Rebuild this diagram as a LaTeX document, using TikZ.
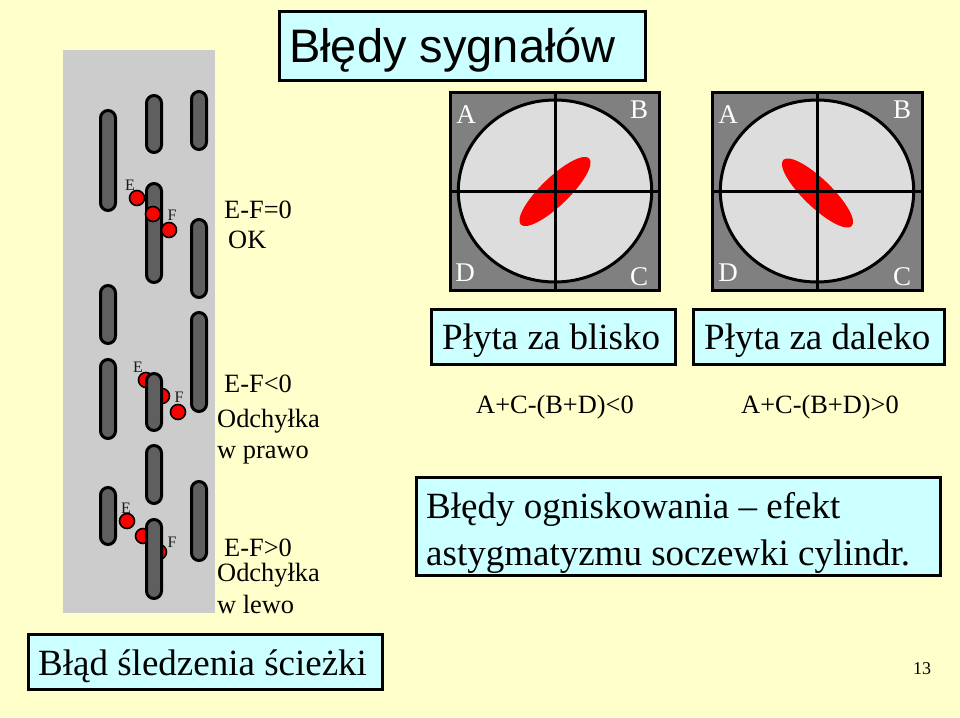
\documentclass[tikz,border=0pt]{standalone}
\usepackage{fontspec}
\setmainfont{Liberation Serif}
\newfontfamily\titlefont{Liberation Sans}
\usepackage{tikz}
\definecolor{pagebg}{HTML}{FFFFCC}
\definecolor{boxbg}{HTML}{CCFFFF}
\definecolor{trackbg}{HTML}{CCCCCC}
\definecolor{pitbg}{HTML}{5F5F5F}
\definecolor{quadbg}{HTML}{808080}
\definecolor{discbg}{HTML}{DDDDDD}
\tikzset{
  pit/.style={draw=black,line width=3pt,fill=pitbg,rounded corners=7.5pt},
  spot/.style={draw=black,line width=1.6pt,fill=red},
  infobox/.style={draw=black,line width=3pt,fill=boxbg},
  caption/.style={anchor=base west,inner sep=0pt,font=\fontsize{37}{40}\selectfont},
  note/.style={anchor=base west,inner sep=0pt,font=\fontsize{26.4}{28}\selectfont},
  tiny/.style={inner sep=0pt,font=\fontsize{16}{17}\selectfont,text=black!90},
  quadlabel/.style={inner sep=0pt,text=white,font=\fontsize{27}{28}\selectfont},
}
\begin{document}
\begin{tikzpicture}[x=1pt,y=-1pt]
\fill[pagebg] (0,0) rectangle (960,717);
% title
\draw[infobox] (279,12) rectangle (645,80);
\node[anchor=base west,inner sep=0pt,font=\titlefont\fontsize{47}{50}\selectfont] (title) at (289,63) {Błędy sygnałów};
% track strip
\fill[trackbg] (63,50) rectangle (215,613);
% spots under the pits
\draw[spot] (146,380) circle (7.5);
\draw[spot] (162,396) circle (7.5);
\draw[spot] (178,412) circle (7.5);
\draw[spot] (127,521) circle (7.5);
\draw[spot] (143,536) circle (7.5);
\draw[spot] (159,552) circle (7.5);
% pits
\draw[pit] (100.5,110.5) rectangle (115.5,210.5);
\draw[pit] (146.5,95.5) rectangle (161.5,152.5);
\draw[pit] (191.5,91.5) rectangle (206.5,149.5);
\draw[pit] (146.5,183.5) rectangle (161.5,282.5);
\draw[pit] (191.5,219.5) rectangle (206.5,297.5);
\draw[pit] (100.5,285.5) rectangle (115.5,343.5);
\draw[pit] (191.5,312.5) rectangle (206.5,411.5);
\draw[pit] (100.5,359.5) rectangle (115.5,438.5);
\draw[pit] (146.5,373.5) rectangle (161.5,430.5);
\draw[pit] (146.5,445.5) rectangle (161.5,503.5);
\draw[pit] (100.5,487.5) rectangle (115.5,544.5);
\draw[pit] (191.5,481.5) rectangle (206.5,560.5);
\draw[pit] (146.5,519.5) rectangle (161.5,598.5);
% spots over the pits, first row
\draw[spot] (137,198) circle (7.5);
\draw[spot] (153,214) circle (7.5);
\draw[spot] (169,230) circle (7.5);
% spot labels
\node[tiny] (e1) at (130,185) {E};
\node[tiny] (f1) at (172,215) {F};
\node[tiny] (e2) at (138,367) {E};
\node[tiny] (f2) at (179,397) {F};
\node[tiny] (e3) at (126,508) {E};
\node[tiny] (f3) at (172,542) {F};
% track notes
\node[note] (okA) at (224,218) {E-F=0};
\node[note] (okB) at (228,248) {OK};
\node[note] (rightA) at (224,392) {E-F<0};
\node[note] (rightB) at (217,427) {Odchyłka};
\node[note] (rightC) at (217,458) {w prawo};
\node[note] (leftA) at (224,556) {E-F>0};
\node[note] (leftB) at (217,581) {Odchyłka};
\node[note] (leftC) at (217,613) {w lewo};
% near detector
\draw[draw=black,line width=3pt,fill=quadbg] (450,92) rectangle (659,290);
\draw[draw=black,line width=3pt,fill=discbg] (555,191) circle [x radius=96.7,y radius=91];
\fill[red] (555,191.5) circle [x radius=47.6,y radius=14,rotate=44];
\draw[line width=3pt] (450,191) -- (659,191);
\draw[line width=3pt] (555,92) -- (555,290);
\node[quadlabel] (nearA) at (466,115) {A};
\node[quadlabel] (nearB) at (639,110) {B};
\node[quadlabel] (nearD) at (465,273) {D};
\node[quadlabel] (nearC) at (639,277) {C};
% far detector
\draw[draw=black,line width=3pt,fill=quadbg] (712,92) rectangle (922,290);
\draw[draw=black,line width=3pt,fill=discbg] (817,191) circle [x radius=96.7,y radius=91];
\fill[red] (817.5,193) circle [x radius=47.6,y radius=14,rotate=-44];
\draw[line width=3pt] (712,191) -- (922,191);
\draw[line width=3pt] (817,92) -- (817,290);
\node[quadlabel] (farA) at (728,115) {A};
\node[quadlabel] (farB) at (902,110) {B};
\node[quadlabel] (farD) at (728,273) {D};
\node[quadlabel] (farC) at (902,277) {C};
% detector captions
\draw[infobox] (431,309) rectangle (675,364);
\node[caption] (near) at (442,349) {Płyta za blisko};
\draw[infobox] (693,309) rectangle (944,364);
\node[caption] (far) at (704,349) {Płyta za daleko};
\node[note] (nearSum) at (476,413) {A+C-(B+D)<0};
\node[note] (farSum) at (741,413) {A+C-(B+D)>0};
% focus box
\draw[infobox] (416,477) rectangle (940,575);
\node[caption] (focusA) at (426,518) {Błędy ogniskowania – efekt};
\node[caption] (focusB) at (426,565) {astygmatyzmu soczewki cylindr.};
% tracking box
\draw[infobox] (28,634) rectangle (382,689);
\node[caption] (tracking) at (38,675) {Błąd śledzenia ścieżki};
\node[inner sep=0pt,font=\fontsize{18}{20}\selectfont] (page) at (922,669) {13};
\end{tikzpicture}
\end{document}
